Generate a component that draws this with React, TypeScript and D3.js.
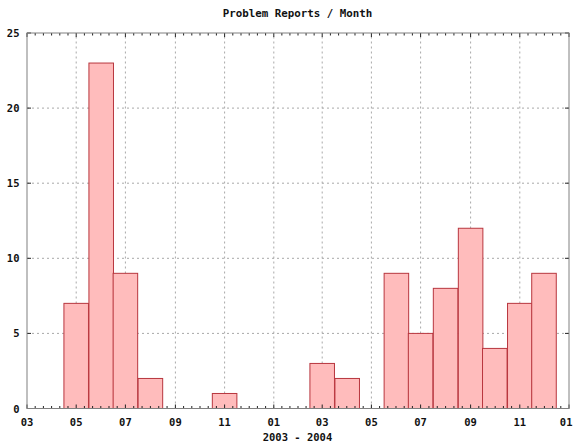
import React from "react";
import * as d3 from "d3";

const months: string[] = [
  "2003-05", "2003-06", "2003-07", "2003-08", "2003-09", "2003-10", "2003-11", "2003-12",
  "2004-01", "2004-02", "2004-03", "2004-04", "2004-05", "2004-06", "2004-07", "2004-08",
  "2004-09", "2004-10", "2004-11", "2004-12",
];
const reports: number[] = [7, 23, 9, 2, 0, 0, 1, 0, 0, 0, 3, 2, 0, 9, 5, 8, 12, 4, 7, 9];
const yTicks: number[] = [0, 5, 10, 15, 20, 25];
const xStart = "2003-03";
const xEnd = "2005-01";
const title = "Problem Reports / Month";
const xLabel = "2003 - 2004";

const W = 573;
const H = 442;
const M = { left: 27, right: 4, top: 33, bottom: 33.5 };

const parse = d3.utcParse("%Y-%m");
const font = "'DejaVu Sans Mono', monospace";

export default function App() {
  const x = d3
    .scaleUtc()
    .domain([parse(xStart)!, parse(xEnd)!])
    .range([M.left, W - M.right]);
  const y = d3.scaleLinear().domain([0, 25]).range([H - M.bottom, M.top]);
  const x0 = M.left;
  const x1 = W - M.right;
  const y0 = H - M.bottom;
  const y1 = M.top;

  const majors = d3.utcMonth.every(2)!.range(parse(xStart)!, d3.utcMonth.offset(parse(xEnd)!, 1));
  const fmt = d3.utcFormat("%m");
  const minors: number[] = [];
  for (let i = 0; i < majors.length - 1; i++) {
    const a = x(majors[i]);
    const b = x(majors[i + 1]);
    for (let k = 1; k < 6; k++) minors.push(a + ((b - a) * k) / 6);
  }
  const halfBox = 30.44 / 2; // days
  const dayMs = 86400000;

  return (
    <svg
      width={W}
      height={H}
      style={{ position: "absolute", left: 0, top: 0, background: "#fff" }}
    >
      <rect x={0} y={0} width={W} height={H} fill="#fff" />
      {majors.slice(1, -1).map((d, i) => (
        <line key={"gx" + i} x1={x(d)} x2={x(d)} y1={y0} y2={y1} stroke="#a8a8a8" strokeWidth={1} strokeDasharray="2,3" />
      ))}
      {yTicks.slice(1, -1).map((v, i) => (
        <line key={"gy" + i} x1={x0} x2={x1} y1={y(v)} y2={y(v)} stroke="#a8a8a8" strokeWidth={1} strokeDasharray="2,3" />
      ))}
      {months.map((m, i) => {
        if (reports[i] === 0) return null;
        const c = parse(m)!.getTime();
        const xa = x(new Date(c - halfBox * dayMs));
        const xb = x(new Date(c + halfBox * dayMs));
        return (
          <rect
            key={"b" + i}
            x={xa}
            y={y(reports[i])}
            width={xb - xa}
            height={y0 - y(reports[i])}
            fill="#ffbcbc"
            stroke="#b8363e"
            strokeWidth={1}
          />
        );
      })}
      {majors.map((d, i) => {
        const last = i === majors.length - 1;
        return (
          <g key={"tx" + i}>
            <line x1={x(d)} x2={x(d)} y1={y0} y2={y0 - 4} stroke="#222" />
            <line x1={x(d)} x2={x(d)} y1={y1} y2={y1 + 4} stroke="#222" />
            <text
              x={last ? 572.5 : x(d)}
              y={425.5}
              textAnchor={last ? "end" : "middle"}
              fontFamily={font}
              fontWeight="bold"
              fontSize={10.5}
              fill="#111"
            >
              {fmt(d)}
            </text>
          </g>
        );
      })}
      {minors.map((px, i) => (
        <g key={"mx" + i}>
          <line x1={px} x2={px} y1={y0} y2={y0 - 2.5} stroke="#222" />
          <line x1={px} x2={px} y1={y1} y2={y1 + 2.5} stroke="#222" />
        </g>
      ))}
      {yTicks.map((v, i) => (
        <g key={"ty" + i}>
          <line x1={x0} x2={x0 + 4} y1={y(v)} y2={y(v)} stroke="#222" />
          <line x1={x1} x2={x1 - 4} y1={y(v)} y2={y(v)} stroke="#222" />
          <text
            x={19.5}
            y={y(v) + 4}
            textAnchor="end"
            fontFamily={font}
            fontWeight="bold"
            fontSize={10.5}
            fill="#111"
          >
            {v}
          </text>
        </g>
      ))}
      <rect x={x0} y={y1} width={x1 - x0} height={y0 - y1} fill="none" stroke="#808080" strokeWidth={1} />
      <text x={297.5} y={17} textAnchor="middle" fontFamily={font} fontWeight="bold" fontSize={10.8} fill="#111">
        {title}
      </text>
      <text x={297.5} y={441} textAnchor="middle" fontFamily={font} fontWeight="bold" fontSize={10.5} fill="#111">
        {xLabel}
      </text>
    </svg>
  );
}
